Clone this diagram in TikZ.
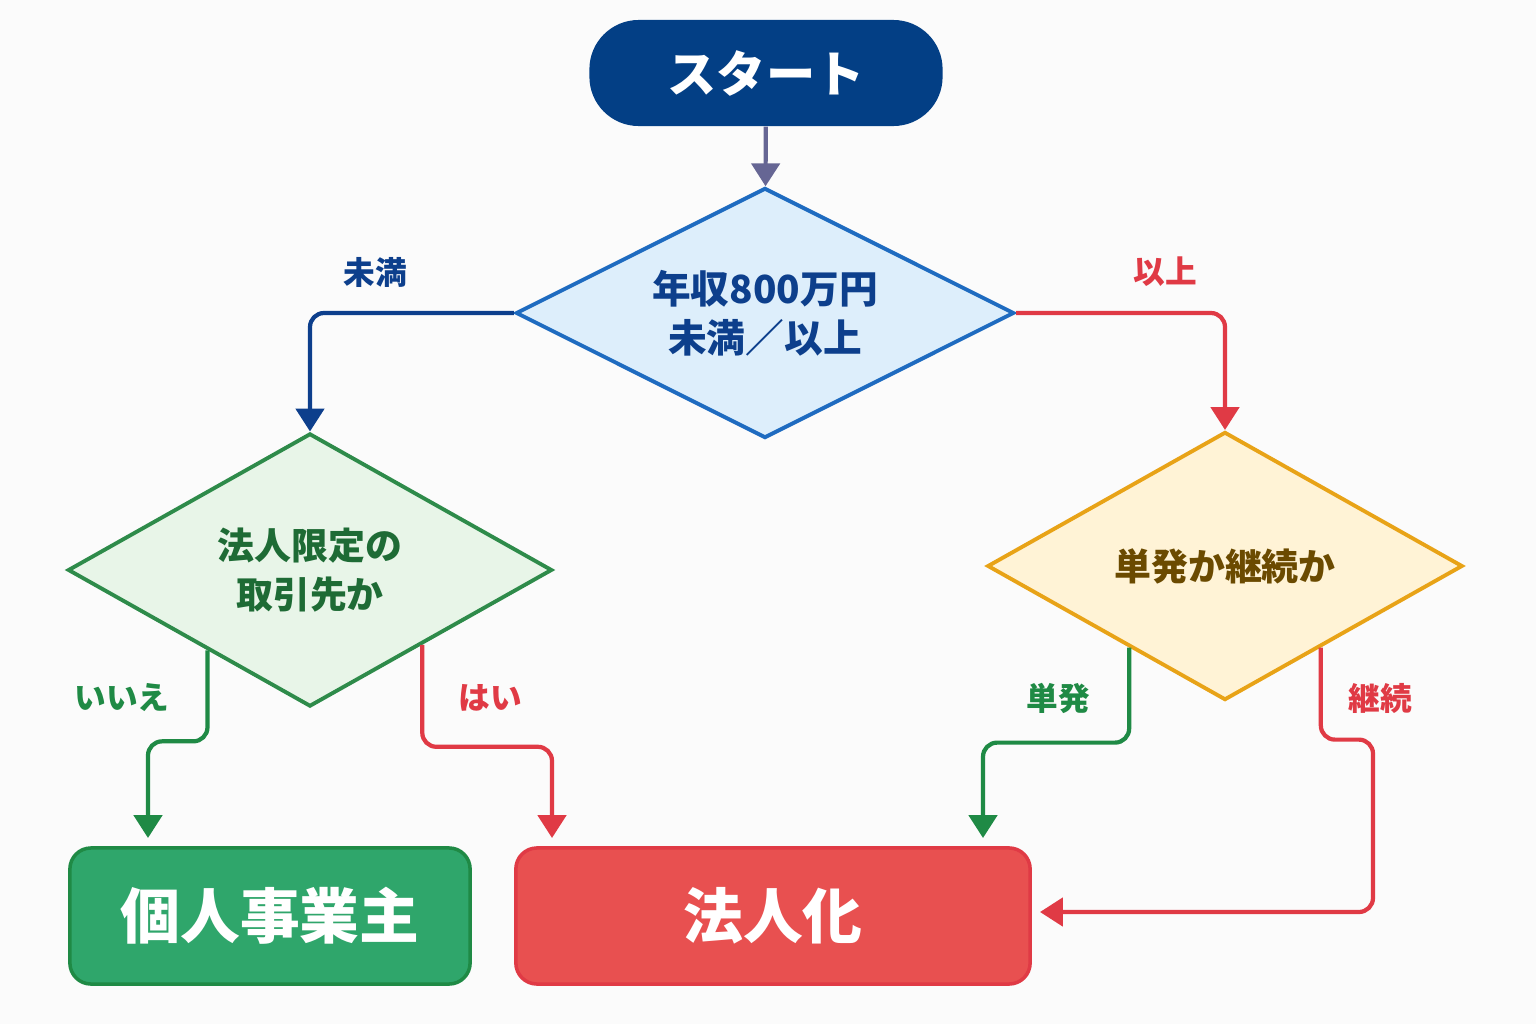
\documentclass[tikz,border=0pt]{standalone}
\usepackage{fontspec}
\setmainfont{Noto Sans CJK JP}
\usetikzlibrary{shapes.geometric,arrows.meta,calc}
\definecolor{startblue}{HTML}{033F85}
\definecolor{qblue}{HTML}{1E6BC0}
\definecolor{qbluefill}{HTML}{DDEEFB}
\definecolor{lineblue}{HTML}{0D3F8C}
\definecolor{qgreen}{HTML}{2E8B4A}
\definecolor{qgreenfill}{HTML}{E8F5E8}
\definecolor{txtgreen}{HTML}{1E6B35}
\definecolor{qorange}{HTML}{E8A317}
\definecolor{qorangefill}{HTML}{FFF3D6}
\definecolor{txtbrown}{HTML}{6B4A00}
\definecolor{linered}{HTML}{E03A45}
\definecolor{linegreen}{HTML}{1F8A45}
\definecolor{boxgreen}{HTML}{2FA66B}
\definecolor{boxred}{HTML}{E85050}
\tikzset{
  decision/.style={diamond,aspect=2,inner sep=0pt,line width=1.1pt,align=center,font=\bfseries\fontsize{11}{14}\selectfont},
  result/.style={rectangle,rounded corners=6pt,line width=1pt,text=white,font=\bfseries\fontsize{17}{20}\selectfont,minimum height=1.36cm},
  flow/.style={line width=1.2pt,rounded corners=4pt,-{Triangle[width=8pt,length=6.5pt]}},
  branch/.style={font=\bfseries\fontsize{9}{11}\selectfont}
}
\begin{document}
\begin{tikzpicture}[x=0.01cm,y=-0.01cm]
\fill[white!97!gray] (0,0) rectangle (1536,1024);
\useasboundingbox (0,0) rectangle (1536,1024);

\node[rectangle,rounded corners=14pt,fill=startblue,text=white,minimum width=3.53cm,minimum height=1.06cm,font=\bfseries\fontsize{14}{16}\selectfont] (start) at (766,73) {スタート};
\node[decision,draw=qblue,fill=qbluefill,text=lineblue,minimum width=4.98cm,minimum height=2.5cm] (income) at (765,313) {年収800万円\\未満／以上};
\node[decision,draw=qgreen,fill=qgreenfill,text=txtgreen,minimum width=4.84cm,minimum height=2.73cm,font=\bfseries\fontsize{10.5}{14}\selectfont] (client) at (310,570) {法人限定の\\取引先か};
\node[decision,draw=qorange,fill=qorangefill,text=txtbrown,minimum width=4.75cm,minimum height=2.68cm,font=\bfseries\fontsize{10.5}{14}\selectfont] (deal) at (1225,566) {単発か継続か};
\node[result,draw=linegreen,fill=boxgreen,minimum width=4cm] (sole) at (270,916) {個人事業主};
\node[result,draw=linered,fill=boxred,minimum width=5.14cm] (corp) at (773,916) {法人化};

\draw[flow,draw=black!70!blue!60,rounded corners=0pt] (start) -- (income);
\draw[flow,draw=lineblue] (income.west) -| (client.north);
\draw[flow,draw=linered] (income.east) -| (deal.north);
\draw[flow,draw=linegreen] ($(client.west)!0.58!(client.south)$) -- ++(0,91) -| (148,838);
\draw[flow,draw=linered] ($(client.south)!0.46!(client.east)$) -- ++(0,102) -| (552,838);
\draw[flow,draw=linegreen] ($(deal.west)!0.6!(deal.south)$) -- ++(0,95) -| (983,838);
\draw[flow,draw=linered] ($(deal.south)!0.4!(deal.east)$) -- ++(0,92) -| (1373,912) -- (1040,912);

\node[branch,text=lineblue] (lt) at (375,272) {未満};
\node[branch,text=linered] (ge) at (1165,272) {以上};
\node[branch,text=linegreen] (no) at (122,698) {いいえ};
\node[branch,text=linered] (yes) at (490,698) {はい};
\node[branch,text=linegreen] (once) at (1058,698) {単発};
\node[branch,text=linered] (cont) at (1380,698) {継続};
\end{tikzpicture}
\end{document}
